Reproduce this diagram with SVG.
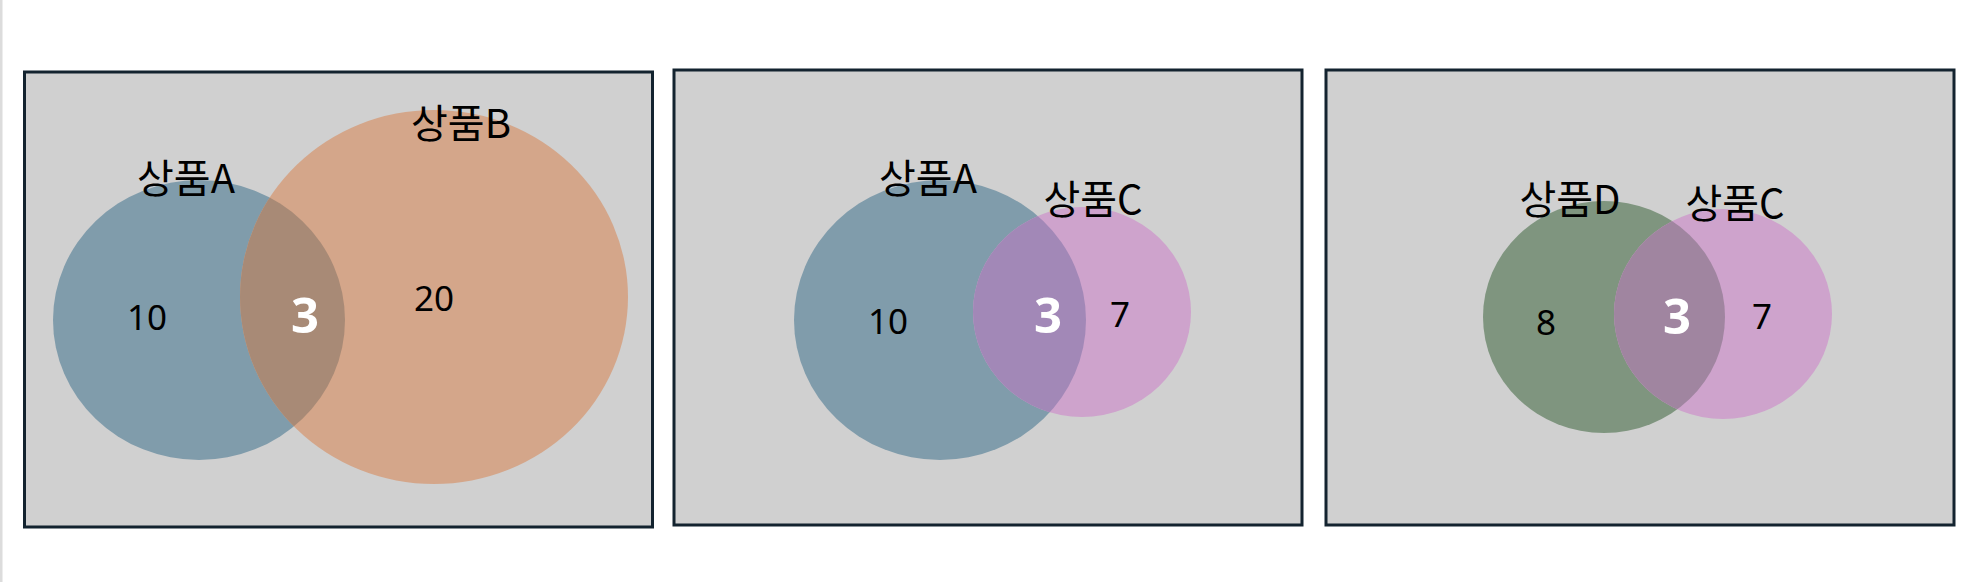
<svg xmlns="http://www.w3.org/2000/svg" width="1976" height="582" viewBox="0 0 1976 582">
<style>
.panel{fill:#d0d0d0;stroke:#13232f;stroke-width:3}
.lbl{font-family:"Noto Sans CJK KR","Noto Sans",sans-serif;font-size:40px;fill:#000;text-anchor:middle}
.num{font-family:"Noto Sans","Noto Sans CJK KR",sans-serif;font-size:35px;fill:#000;text-anchor:middle}
.mid{font-family:"Noto Sans","Noto Sans CJK KR",sans-serif;font-size:49px;font-weight:bold;fill:#fff;text-anchor:middle}
.blue{fill:#809cab}.orange{fill:#d4a68a}.pink{fill:#cea3cc}.green{fill:#7f957f}
.ov1{fill:#a88a76}.ov2{fill:#a288b7}.ov3{fill:#a085a0}
</style>
<defs>
<clipPath id="clipB"><ellipse cx="434" cy="297" rx="194" ry="187"/></clipPath>
<clipPath id="clipC2"><ellipse cx="1082" cy="312" rx="109" ry="105"/></clipPath>
<clipPath id="clipC3"><ellipse cx="1723" cy="314" rx="109" ry="105"/></clipPath>
</defs>
<rect x="0" y="0" width="1976" height="582" fill="#fff"/>
<rect x="0" y="0" width="2.5" height="582" fill="#dcdcdc"/>
<g id="venn-ab">
<rect class="panel" x="24.5" y="72" width="628" height="455"/>
<g id="set-a1"><ellipse class="blue" cx="199" cy="320" rx="146" ry="140"/></g>
<g id="set-b"><ellipse class="orange" cx="434" cy="297" rx="194" ry="187"/></g>
<g id="ab-overlap"><ellipse class="ov1" cx="199" cy="320" rx="146" ry="140" clip-path="url(#clipB)"/></g>
<text class="lbl" x="186" y="193">상품A</text>
<text class="lbl" x="461" y="138">상품B</text>
<text class="num" x="147" y="330">10</text>
<text class="mid" x="305" y="333">3</text>
<text class="num" x="434" y="311">20</text>
</g>
<g id="venn-ac">
<rect class="panel" x="674" y="70" width="628" height="455"/>
<g id="set-a2"><ellipse class="blue" cx="940" cy="320" rx="146" ry="140"/></g>
<g id="set-c2"><ellipse class="pink" cx="1082" cy="312" rx="109" ry="105"/></g>
<g id="ac-overlap"><ellipse class="ov2" cx="940" cy="320" rx="146" ry="140" clip-path="url(#clipC2)"/></g>
<text class="lbl" x="928" y="193">상품A</text>
<text class="lbl" x="1093" y="214">상품C</text>
<text class="num" x="888" y="334">10</text>
<text class="mid" x="1048" y="333">3</text>
<text class="num" x="1120" y="327">7</text>
</g>
<g id="venn-dc">
<rect class="panel" x="1326" y="70" width="628" height="455"/>
<g id="set-d"><ellipse class="green" cx="1604" cy="317" rx="121" ry="116"/></g>
<g id="set-c3"><ellipse class="pink" cx="1723" cy="314" rx="109" ry="105"/></g>
<g id="dc-overlap"><ellipse class="ov3" cx="1604" cy="317" rx="121" ry="116" clip-path="url(#clipC3)"/></g>
<text class="lbl" x="1570" y="214">상품D</text>
<text class="lbl" x="1735" y="218">상품C</text>
<text class="num" x="1546" y="335">8</text>
<text class="mid" x="1677" y="334">3</text>
<text class="num" x="1762" y="329">7</text>
</g>
</svg>
